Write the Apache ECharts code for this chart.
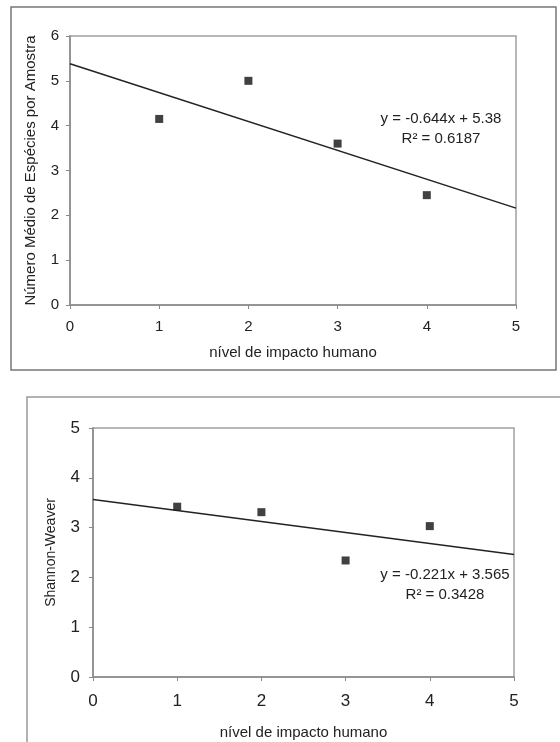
<!DOCTYPE html>
<html>
<head>
<meta charset="utf-8">
<script src="https://cdn.jsdelivr.net/npm/echarts@6/dist/echarts.min.js"></script>
<style>
  html, body { margin: 0; padding: 0; background: #fff; }
  #chart { width: 560px; height: 742px; }
</style>
</head>
<body>
<div id="chart"></div>
<script>
// impact level (x) for both panels
const impactLevels = [1, 2, 3, 4];
// mean number of species per sample
const speciesMean = [4.15, 5.0, 3.6, 2.45];
// Shannon-Weaver index
const shannonIndex = [3.42, 3.31, 2.34, 3.03];
// trend line end points
const speciesTrend = [[0, 5.38], [5, 2.16]];
const shannonTrend = [[0, 3.565], [5, 2.46]];
// labels
const speciesEquation = ["y = -0.644x + 5.38", "R² = 0.6187"];
const shannonEquation = ["y = -0.221x + 3.565", "R² = 0.3428"];
const xTitle = "nível de impacto humano";
const speciesTitle = "Número Médio de Espécies por Amostra";
const shannonTitle = "Shannon-Weaver";

const FONT = '"Liberation Sans", Arial, sans-serif';
const TEXT = "#222";
const AXIS = "#8a8a8a";

const chart = echarts.init(document.getElementById("chart"), null, { renderer: "canvas" });

function xAxisFor(gridIndex, fontSize, margin, nameGap) {
  return {
    gridIndex,
    type: "value",
    min: 0,
    max: 5,
    interval: 1,
    name: xTitle,
    nameLocation: "middle",
    nameGap,
    nameTextStyle: { color: TEXT, fontSize: 15, fontFamily: FONT },
    axisLine: { show: true, lineStyle: { color: AXIS, width: 1.5 } },
    axisTick: { show: true, length: 4, lineStyle: { color: AXIS } },
    axisLabel: { color: TEXT, fontSize, fontFamily: FONT, margin },
    splitLine: { show: false },
  };
}

function yAxisFor(gridIndex, max, name, nameSize, fontSize, margin, nameGap) {
  return {
    gridIndex,
    type: "value",
    min: 0,
    max,
    interval: 1,
    name,
    nameLocation: "middle",
    nameGap,
    nameTextStyle: { color: TEXT, fontSize: nameSize, fontFamily: FONT },
    axisLine: { show: true, lineStyle: { color: AXIS, width: 1.5 } },
    axisTick: { show: true, length: 4, lineStyle: { color: AXIS } },
    axisLabel: { color: TEXT, fontSize, fontFamily: FONT, margin },
    splitLine: { show: false },
  };
}

const pointStyle = { color: "#111" };
const lineStyle = { color: "#222", width: 1.5 };

chart.setOption({
  animation: false,
  backgroundColor: "#fff",
  grid: [
    { left: 70, top: 36, width: 446, height: 269, show: true, borderColor: "#a0a0a0", borderWidth: 1.5, backgroundColor: "transparent" },
    { left: 93, top: 428, width: 421, height: 249, show: true, borderColor: "#a0a0a0", borderWidth: 1.5, backgroundColor: "transparent" },
  ],
  xAxis: [
    xAxisFor(0, 15, 14, 40),
    xAxisFor(1, 17, 16, 48),
  ],
  yAxis: [
    yAxisFor(0, 6, speciesTitle, 15, 15, 11, 32),
    yAxisFor(1, 5, shannonTitle, 14, 17, 13, 35),
  ],
  graphic: [
    { type: "rect", shape: { x: 11, y: 7, width: 545, height: 363 }, style: { fill: "none", stroke: "#777", lineWidth: 1.5 }, z: -1 },
    { type: "rect", shape: { x: 27, y: 397, width: 560, height: 400 }, style: { fill: "none", stroke: "#999", lineWidth: 1.5 }, z: -1 },
    { type: "text", x: 441, y: 119, style: { text: speciesEquation[0], fontSize: 15, fontFamily: FONT, fill: TEXT, align: "center", verticalAlign: "middle" } },
    { type: "text", x: 441, y: 139, style: { text: speciesEquation[1], fontSize: 15, fontFamily: FONT, fill: TEXT, align: "center", verticalAlign: "middle" } },
    { type: "text", x: 445, y: 575, style: { text: shannonEquation[0], fontSize: 15, fontFamily: FONT, fill: TEXT, align: "center", verticalAlign: "middle" } },
    { type: "text", x: 445, y: 595, style: { text: shannonEquation[1], fontSize: 15, fontFamily: FONT, fill: TEXT, align: "center", verticalAlign: "middle" } },
  ],
  series: [
    {
      type: "line",
      xAxisIndex: 0,
      yAxisIndex: 0,
      data: speciesTrend,
      showSymbol: false,
      lineStyle,
      silent: true,
    },
    {
      type: "scatter",
      xAxisIndex: 0,
      yAxisIndex: 0,
      symbol: "rect",
      symbolSize: 8,
      itemStyle: pointStyle,
      data: impactLevels.map((x, i) => [x, speciesMean[i]]),
    },
    {
      type: "line",
      xAxisIndex: 1,
      yAxisIndex: 1,
      data: shannonTrend,
      showSymbol: false,
      lineStyle,
      silent: true,
    },
    {
      type: "scatter",
      xAxisIndex: 1,
      yAxisIndex: 1,
      symbol: "rect",
      symbolSize: 8,
      itemStyle: pointStyle,
      data: impactLevels.map((x, i) => [x, shannonIndex[i]]),
    },
  ],
});
</script>
</body>
</html>
